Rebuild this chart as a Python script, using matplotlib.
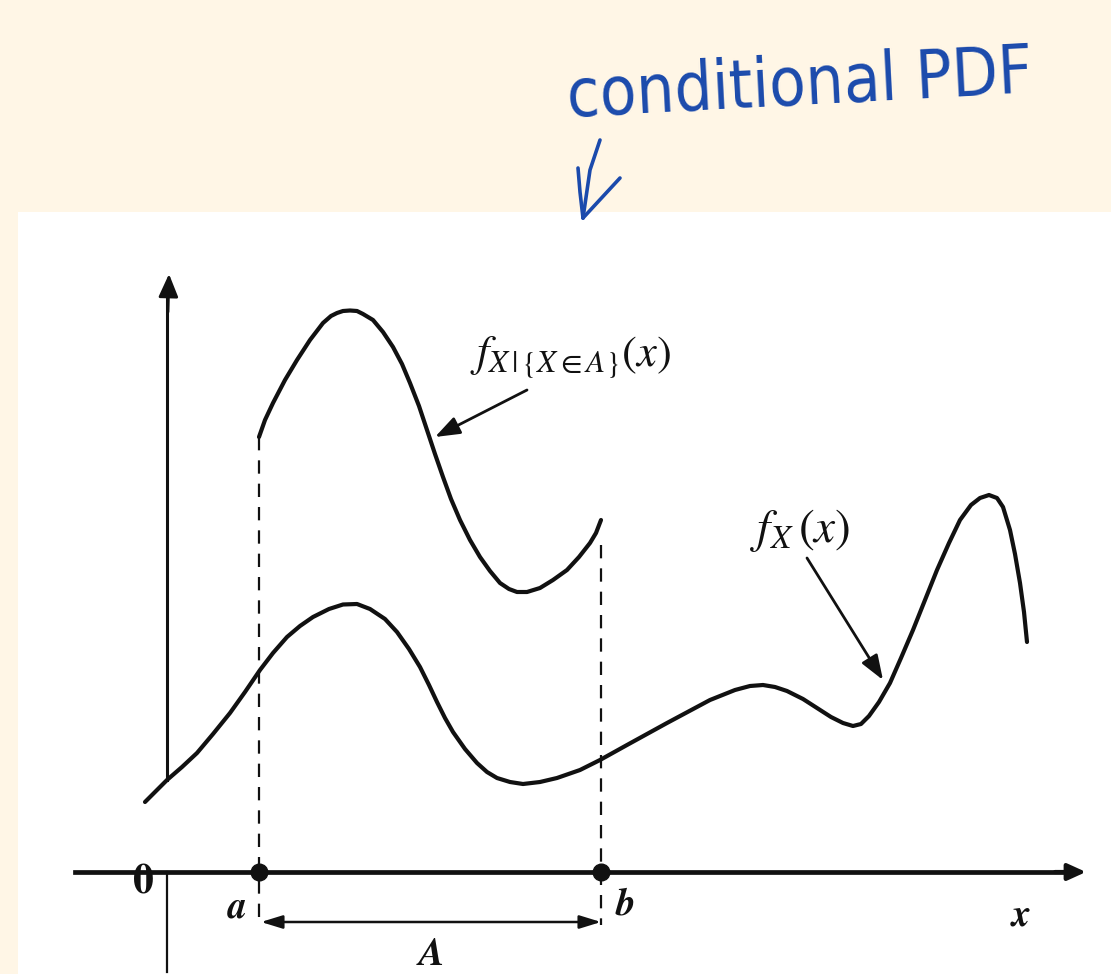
import numpy as np
import matplotlib
matplotlib.use('Agg')
import matplotlib.pyplot as plt
import matplotlib.patches as mpatches

plt.rcParams['mathtext.fontset'] = 'stix'

# ── Data (x measured from the origin, arbitrary density units) ───────────────
fx_x = [-0.20, 0.02, 0.17, 0.32, 0.48, 0.65, 0.80, 0.95, 1.08, 1.22, 1.35,
        1.48, 1.64, 1.78, 1.92, 2.05, 2.20, 2.32, 2.44, 2.55, 2.64, 2.72,
        2.80, 2.88, 3.00, 3.12, 3.22, 3.32, 3.45, 3.58, 3.75, 3.92, 4.15,
        4.35, 4.62, 5.02, 5.45, 5.70, 5.85, 5.98, 6.10, 6.22, 6.38, 6.52,
        6.66, 6.78, 6.88, 6.96, 7.04, 7.14, 7.25, 7.36, 7.48, 7.60, 7.72,
        7.84, 7.95, 8.06, 8.15, 8.24, 8.32, 8.38, 8.45, 8.50, 8.55, 8.59,
        8.62]
fx_y = [0.70, 0.92, 1.05, 1.19, 1.38, 1.59, 1.80, 2.02, 2.19, 2.35, 2.46,
        2.55, 2.63, 2.675, 2.68, 2.63, 2.53, 2.40, 2.23, 2.05, 1.87, 1.70,
        1.54, 1.40, 1.23, 1.09, 1.00, 0.94, 0.90, 0.88, 0.90, 0.94, 1.02,
        1.12, 1.27, 1.49, 1.72, 1.82, 1.86, 1.87, 1.85, 1.81, 1.73, 1.64,
        1.55, 1.49, 1.46, 1.48, 1.56, 1.70, 1.89, 2.14, 2.42, 2.72, 3.02,
        3.29, 3.52, 3.67, 3.74, 3.77, 3.74, 3.65, 3.42, 3.18, 2.89, 2.60,
        2.30]

a, b = 0.94, 4.36
cond_x = [a, 1.00, 1.08, 1.20, 1.32, 1.45, 1.58, 1.66, 1.72, 1.78, 1.85,
          1.92, 1.98, 2.08, 2.18, 2.28, 2.37, 2.45, 2.54, 2.62, 2.70, 2.78,
          2.86, 2.95, 3.05, 3.15, 3.25, 3.35, 3.44, 3.52, 3.62, 3.75, 3.88,
          4.02, 4.14, 4.25, 4.31, b]
cond_y = [4.35, 4.52, 4.69, 4.92, 5.12, 5.32, 5.49, 5.56, 5.59, 5.61, 5.615,
          5.61, 5.58, 5.52, 5.40, 5.25, 5.08, 4.89, 4.66, 4.42, 4.18, 3.95,
          3.73, 3.52, 3.32, 3.15, 3.01, 2.89, 2.83, 2.80, 2.80, 2.84, 2.92,
          3.02, 3.15, 3.29, 3.39, 3.52]

# handwritten note strokes
note_strokes = [
    ([4.35, 4.25, 4.18], [7.32, 7.02, 6.54]),
    ([4.13, 4.15, 4.18], [7.04, 6.80, 6.54]),
    ([4.55, 4.18], [6.94, 6.54]),
]

# ── Colours ──────────────────────────────────────────────────────────────────
col_bg = '#fff6e6'
col_ink = '#111111'
col_pen = '#1b4aac'

# ── Figure ───────────────────────────────────────────────────────────────────
fig = plt.figure(figsize=(11.11, 9.74), dpi=100)
fig.patch.set_facecolor(col_bg)
ax = fig.add_axes([0, 0, 1, 1])
ax.set_xlim(-1.65, 9.46)
ax.set_ylim(-1.02, 8.72)
ax.set_facecolor(col_bg)
ax.axis('off')

# white page area
ax.add_patch(mpatches.Rectangle((-1.47, -1.02), 11.0, 7.62,
                                facecolor='white', edgecolor='none', zorder=0))

# axes
ax.plot([-0.90, 9.0], [0, 0], color=col_ink, lw=3.4, zorder=2)
ax.annotate('', xy=(9.21, 0), xytext=(8.9, 0),
            arrowprops=dict(arrowstyle='-|>,head_length=1.1,head_width=0.5',
                            color=col_ink, lw=3, shrinkA=0, shrinkB=0))
ax.plot([0.02, 0.02], [0.92, 5.75], color=col_ink, lw=2.2, zorder=2)
ax.plot([0.02, 0.02], [0, -1.0], color=col_ink, lw=1.6, zorder=2)
ax.annotate('', xy=(0.04, 5.98), xytext=(0.03, 5.6),
            arrowprops=dict(arrowstyle='-|>,head_length=1.4,head_width=0.6',
                            color=col_ink, lw=2, shrinkA=0, shrinkB=0))

# curves
ax.plot(fx_x, fx_y, color=col_ink, lw=3.0, solid_capstyle='round',
        solid_joinstyle='round', zorder=3)
ax.plot(cond_x, cond_y, color=col_ink, lw=3.0, solid_capstyle='round',
        solid_joinstyle='round', zorder=3)

# dashed drop lines and endpoints
ax.plot([a, a], [cond_y[0], -0.53], color=col_ink, lw=1.6,
        linestyle=(0, (6, 4.5)), zorder=2)
ax.plot([b, b], [cond_y[-1] - 0.25, -0.53], color=col_ink, lw=1.6,
        linestyle=(0, (6, 4.5)), zorder=2)
ax.plot([a, b], [0, 0], 'o', color=col_ink, markersize=12, zorder=4)

# interval A
ax.annotate('', xy=(a + 0.02, -0.50), xytext=(b, -0.50),
            arrowprops=dict(arrowstyle='<|-|>,head_length=1.3,head_width=0.4',
                            color=col_ink, lw=1.8, shrinkA=0, shrinkB=0))

lbl = dict(fontfamily='STIXGeneral', fontweight='bold', color=col_ink)
ax.text(-0.22, -0.12, '0', fontsize=30, ha='center', va='center', **lbl)
ax.text(0.72, -0.36, 'a', fontsize=27, style='italic', ha='center', va='center', **lbl)
ax.text(4.60, -0.33, 'b', fontsize=28, style='italic', ha='center', va='center', **lbl)
ax.text(8.56, -0.44, 'x', fontsize=27, style='italic', ha='center', va='center', **lbl)
ax.text(2.67, -0.83, 'A', fontsize=28, style='italic', ha='center', va='center', **lbl)

# curve labels with pointers
ax.text(4.06, 5.14, r'$f_{X\,|\,\{X \in A\}}(x)$', fontsize=32,
        ha='center', va='center', color=col_ink)
ax.annotate('', xy=(2.70, 4.35), xytext=(3.62, 4.82),
            arrowprops=dict(arrowstyle='-|>,head_length=1.5,head_width=0.55',
                            color=col_ink, lw=2.0, shrinkA=0, shrinkB=0))
ax.text(6.35, 3.42, r'$f_X\,(x)$', fontsize=34, ha='center', va='center',
        color=col_ink)
ax.annotate('', xy=(7.18, 1.92), xytext=(6.42, 3.14),
            arrowprops=dict(arrowstyle='-|>,head_length=1.5,head_width=0.55',
                            color=col_ink, lw=2.0, shrinkA=0, shrinkB=0))

# handwritten note
ax.text(4.00, 7.55, 'conditional PDF', fontsize=48, color=col_pen,
        fontfamily='DejaVu Sans', fontstretch='condensed', rotation=3,
        ha='left', va='baseline')
for xs, ys in note_strokes:
    ax.plot(xs, ys, color=col_pen, lw=2.6, solid_capstyle='round',
            solid_joinstyle='round', clip_on=False)

plt.savefig('out.png', dpi=100, facecolor=col_bg)
